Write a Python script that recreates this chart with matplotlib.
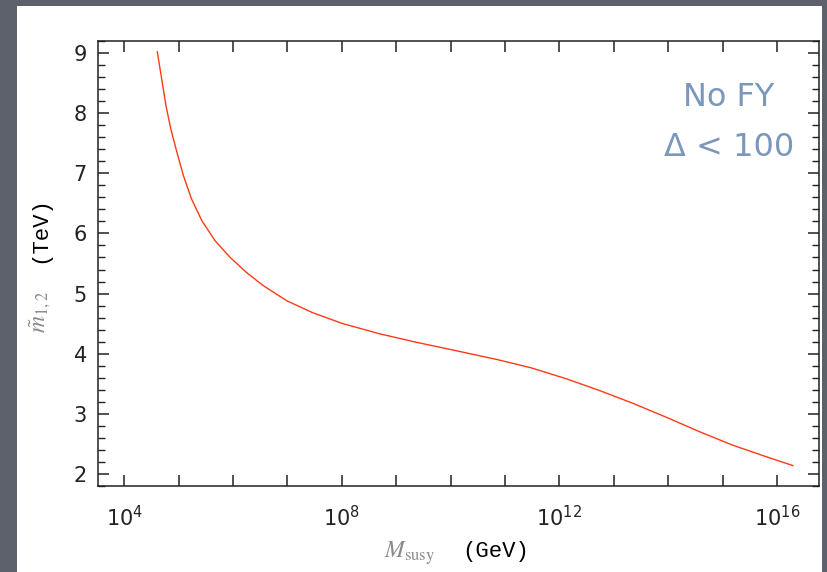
import numpy as np
import matplotlib.pyplot as plt
from matplotlib.patches import Rectangle
from matplotlib.ticker import FixedLocator, NullFormatter, MultipleLocator

# curve: log10(M_susy / GeV) and m_12 in TeV
log_msusy = [4.61, 4.69, 4.77, 4.86, 4.97, 5.09, 5.24, 5.43, 5.67, 5.95,
             6.25, 6.56, 6.99, 7.47, 8.02, 8.70, 9.37, 10.10, 10.87, 11.48,
             12.12, 12.73, 13.35, 13.96, 14.57, 15.18, 15.79, 16.29]
m12_tev = [9.02, 8.57, 8.12, 7.73, 7.35, 6.96, 6.57, 6.21, 5.88, 5.60,
           5.35, 5.13, 4.88, 4.68, 4.50, 4.33, 4.19, 4.05, 3.90, 3.765,
           3.585, 3.39, 3.175, 2.945, 2.705, 2.48, 2.29, 2.14]

x_label_exps = [4, 8, 12, 16]
y_ticks = [2, 3, 4, 5, 6, 7, 8, 9]

BG = "#5c616c"
LINE = "#ff3a14"
NOTE = "#7b97bc"

fig = plt.figure(figsize=(8.28, 5.72), dpi=100)
fig.patch.set_facecolor(BG)
fig.patches.append(Rectangle((17 / 828, 0), (822 - 17) / 828, (572 - 6) / 572,
                             transform=fig.transFigure, facecolor="white",
                             edgecolor="none", zorder=-5))

ax = fig.add_axes([98 / 828, 86 / 572, (819 - 98) / 828, (486 - 41) / 572])
ax.set_zorder(2)
ax.set_facecolor("white")

ax.plot(10.0 ** np.array(log_msusy), m12_tev, color=LINE, lw=1.0,
        solid_joinstyle="round")

ax.set_xscale("log")
ax.set_xlim(10 ** 3.52, 10 ** 16.77)
ax.set_ylim(1.8, 9.2)

# decade ticks everywhere, labels only every fourth decade
decades = list(range(4, 17))
ax.set_xticks([10.0 ** e for e in decades])
ax.set_xticklabels([rf"$10^{{{e}}}$" if e in x_label_exps else "" for e in decades])
ax.xaxis.set_minor_locator(FixedLocator([]))
ax.set_yticks(y_ticks)
ax.yaxis.set_minor_locator(MultipleLocator(0.2))
ax.yaxis.set_minor_formatter(NullFormatter())

ax.tick_params(which="major", direction="in", length=8, width=1.1,
               top=True, right=True, labelsize=15, colors="#222222")
ax.tick_params(which="minor", direction="in", length=5, width=1.0,
               top=False, right=True, colors="#222222")
ax.tick_params(axis="x", pad=14)
ax.tick_params(axis="y", pad=8)
for lab in ax.get_xticklabels():
    lab.set_math_fontfamily("dejavusans")
for s in ax.spines.values():
    s.set_linewidth(1.1)
    s.set_color("#222222")

# axis labels: grey math symbol + black monospace unit
fig.text(410 / 828, 1 - 553 / 572, r"$M_{\rm susy}$", color="#8a8a8a",
         fontsize=17, math_fontfamily="stix", ha="center", va="center")
fig.text(496 / 828, 1 - 551 / 572, "(GeV)", color="black", fontsize=16,
         family="Liberation Mono", ha="center", va="center")
fig.text(40 / 828, 1 - 312 / 572, r"$\tilde{m}_{1,2}$", color="#8a8a8a",
         fontsize=17, math_fontfamily="stix", ha="center", va="center",
         rotation=90)
fig.text(40 / 828, 1 - 230 / 572, "(TeV)", color="black", fontsize=16,
         family="Liberation Mono", ha="center", va="center", rotation=90)

fig.text(729 / 828, 1 - 97 / 572, "No FY", color=NOTE, fontsize=23,
         ha="center", va="center", zorder=5)
fig.text(729 / 828, 1 - 148 / 572, "Δ < 100", color=NOTE, fontsize=23,
         ha="center", va="center", zorder=5)

fig.savefig("out.png", dpi=100, facecolor=BG)
